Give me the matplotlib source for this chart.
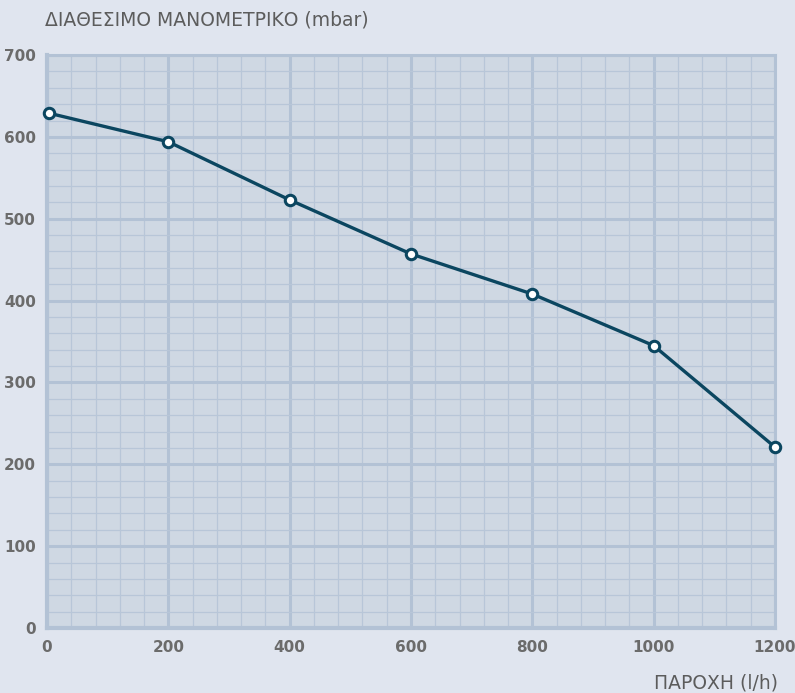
import matplotlib
matplotlib.use("Agg")
import matplotlib.pyplot as plt
from matplotlib.ticker import MultipleLocator

# flow (l/h) vs available head (mbar)
flow = [3, 200, 400, 600, 800, 1000, 1200]
head = [629, 594, 523, 457, 408, 345, 221]

x_ticks = [0, 200, 400, 600, 800, 1000, 1200]
y_ticks = [0, 100, 200, 300, 400, 500, 600, 700]

BG = "#e0e5ef"
FACE = "#cfd8e3"
GRID = "#b3c2d5"
LINE = "#0b4660"
TXT = "#6b6b6b"

fig = plt.figure(figsize=(7.95, 6.93), dpi=100, facecolor=BG)
ax = fig.add_axes([0.0591, 0.0938, 0.9157, 0.8268])
ax.set_facecolor(FACE)

ax.set_xlim(0, 1200)
ax.set_ylim(0, 700)
ax.set_xticks(x_ticks)
ax.set_yticks(y_ticks)
ax.xaxis.set_minor_locator(MultipleLocator(40))
ax.yaxis.set_minor_locator(MultipleLocator(20))
ax.grid(which="major", color=GRID, linewidth=2.2)
ax.grid(which="minor", color="#b8c6d8", linewidth=0.9)
ax.set_axisbelow(True)
ax.tick_params(which="both", length=0)
ax.tick_params(axis="x", pad=9)
ax.tick_params(axis="y", pad=8)
for lab in ax.get_xticklabels() + ax.get_yticklabels():
    lab.set_fontweight("bold")
    lab.set_fontsize(11)
    lab.set_color(TXT)
for s in ax.spines.values():
    s.set_color(GRID)
    s.set_linewidth(2.2)
ax.spines["left"].set_linewidth(3)
ax.spines["bottom"].set_linewidth(3)

ax.plot(flow, head, color=LINE, linewidth=2.4, marker="o", markersize=7.5,
        markerfacecolor="white", markeredgecolor=LINE, markeredgewidth=2.2,
        clip_on=False, zorder=5)

fig.text(45 / 795, 1 - 20 / 693, "ΔΙΑΘΕΣΙΜΟ ΜΑΝΟΜΕΤΡΙΚΟ (mbar)", ha="left", va="center",
         fontsize=13.5, color="#5c5c5c")
fig.text(778 / 795, 1 - 683 / 693, "ΠΑΡΟΧΗ (l/h)", ha="right", va="center",
         fontsize=13.5, color="#5c5c5c")

fig.savefig("out.png", dpi=100, facecolor=BG)
